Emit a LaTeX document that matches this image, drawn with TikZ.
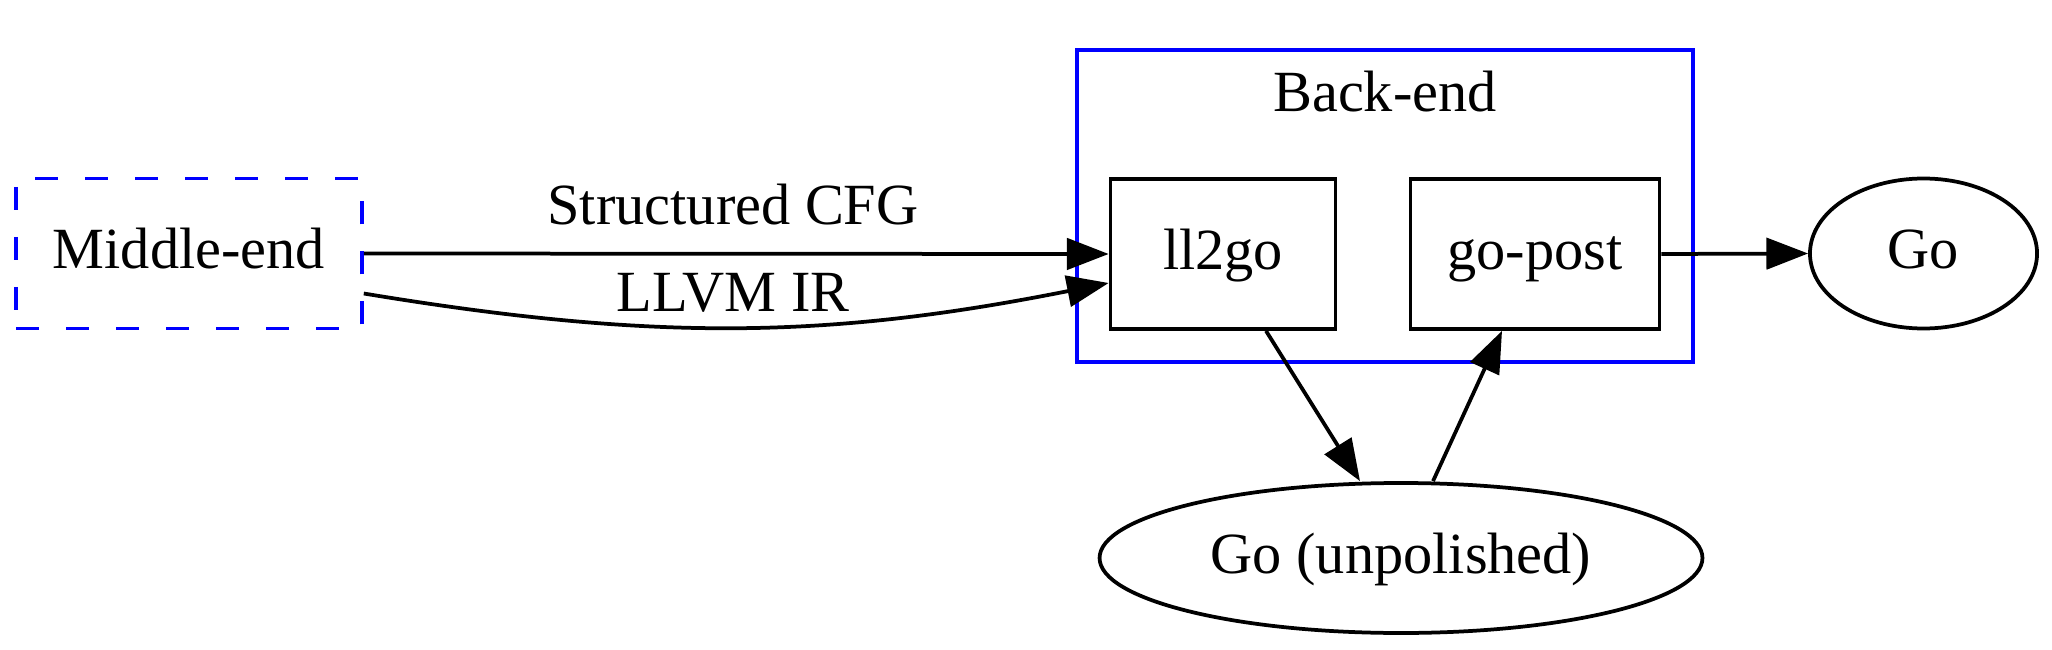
\documentclass[tikz,border=0pt]{standalone}
\usepackage{fontspec}
\setmainfont{Liberation Serif}
\usetikzlibrary{arrows.meta,shapes.geometric}

\tikzset{
  box/.style={draw, rectangle, line width=0.9pt, inner sep=0pt, minimum height=36pt, text height=10pt, text depth=2.6pt},
  oval/.style={draw, ellipse, line width=0.9pt, inner sep=0pt, minimum height=36pt, text height=10pt, text depth=2.6pt},
  lbl/.style={inner sep=0pt, text height=10pt, text depth=2.6pt},
  edge/.style={->, line width=0.9pt},
}

\begin{document}
\begin{tikzpicture}[x=0.24pt, y=-0.24pt, >={Triangle[length=10pt,width=7.5pt]}, font=\fontsize{14}{17}\selectfont]
		\useasboundingbox (0,0) rectangle (2052,650);
		%Back-end
		\draw [blue, line width=0.9pt] (1077,50) rectangle (1693,362);
		\node [lbl] (backend) at (1385,96.5) {Back-end};
		%Nodi
		\node [box, blue, dash pattern=on 5.5pt off 6.5pt, minimum width=83pt, text=black] (middle) at (189,253.5) {Middle-end};
		\node [box, minimum width=54pt] (ll2go) at (1223,254) {ll2go};
		\node [box, minimum width=59.8pt] (gopost) at (1535,254) {go-post};
		\node [oval, minimum width=54.5pt] (go) at (1923.5,253.5) {Go};
		\node [oval, minimum width=144.7pt] (unpol) at (1401,558) {Go (unpolished)};
		%Archi
		\draw [edge] (middle.east) -- (ll2go.west);
		\node [lbl] (cfg) at (733,209.5) {Structured CFG};
		\draw [edge] ([shift={(0,40)}]middle.east) .. controls +(290,48) and +(-281,56) .. ([shift={(0,29)}]ll2go.west);
		\node [lbl] (ir) at (733,296.5) {LLVM IR};
		\draw [edge] ([shift={(43,0)}]ll2go.south) -- ([shift={(-41,0)}]unpol.north);
		\draw [edge] ([shift={(32,0)}]unpol.north) -- ([shift={(-33,0)}]gopost.south);
		\draw [edge] (gopost.east) -- (go.west);
\end{tikzpicture}
\end{document}
